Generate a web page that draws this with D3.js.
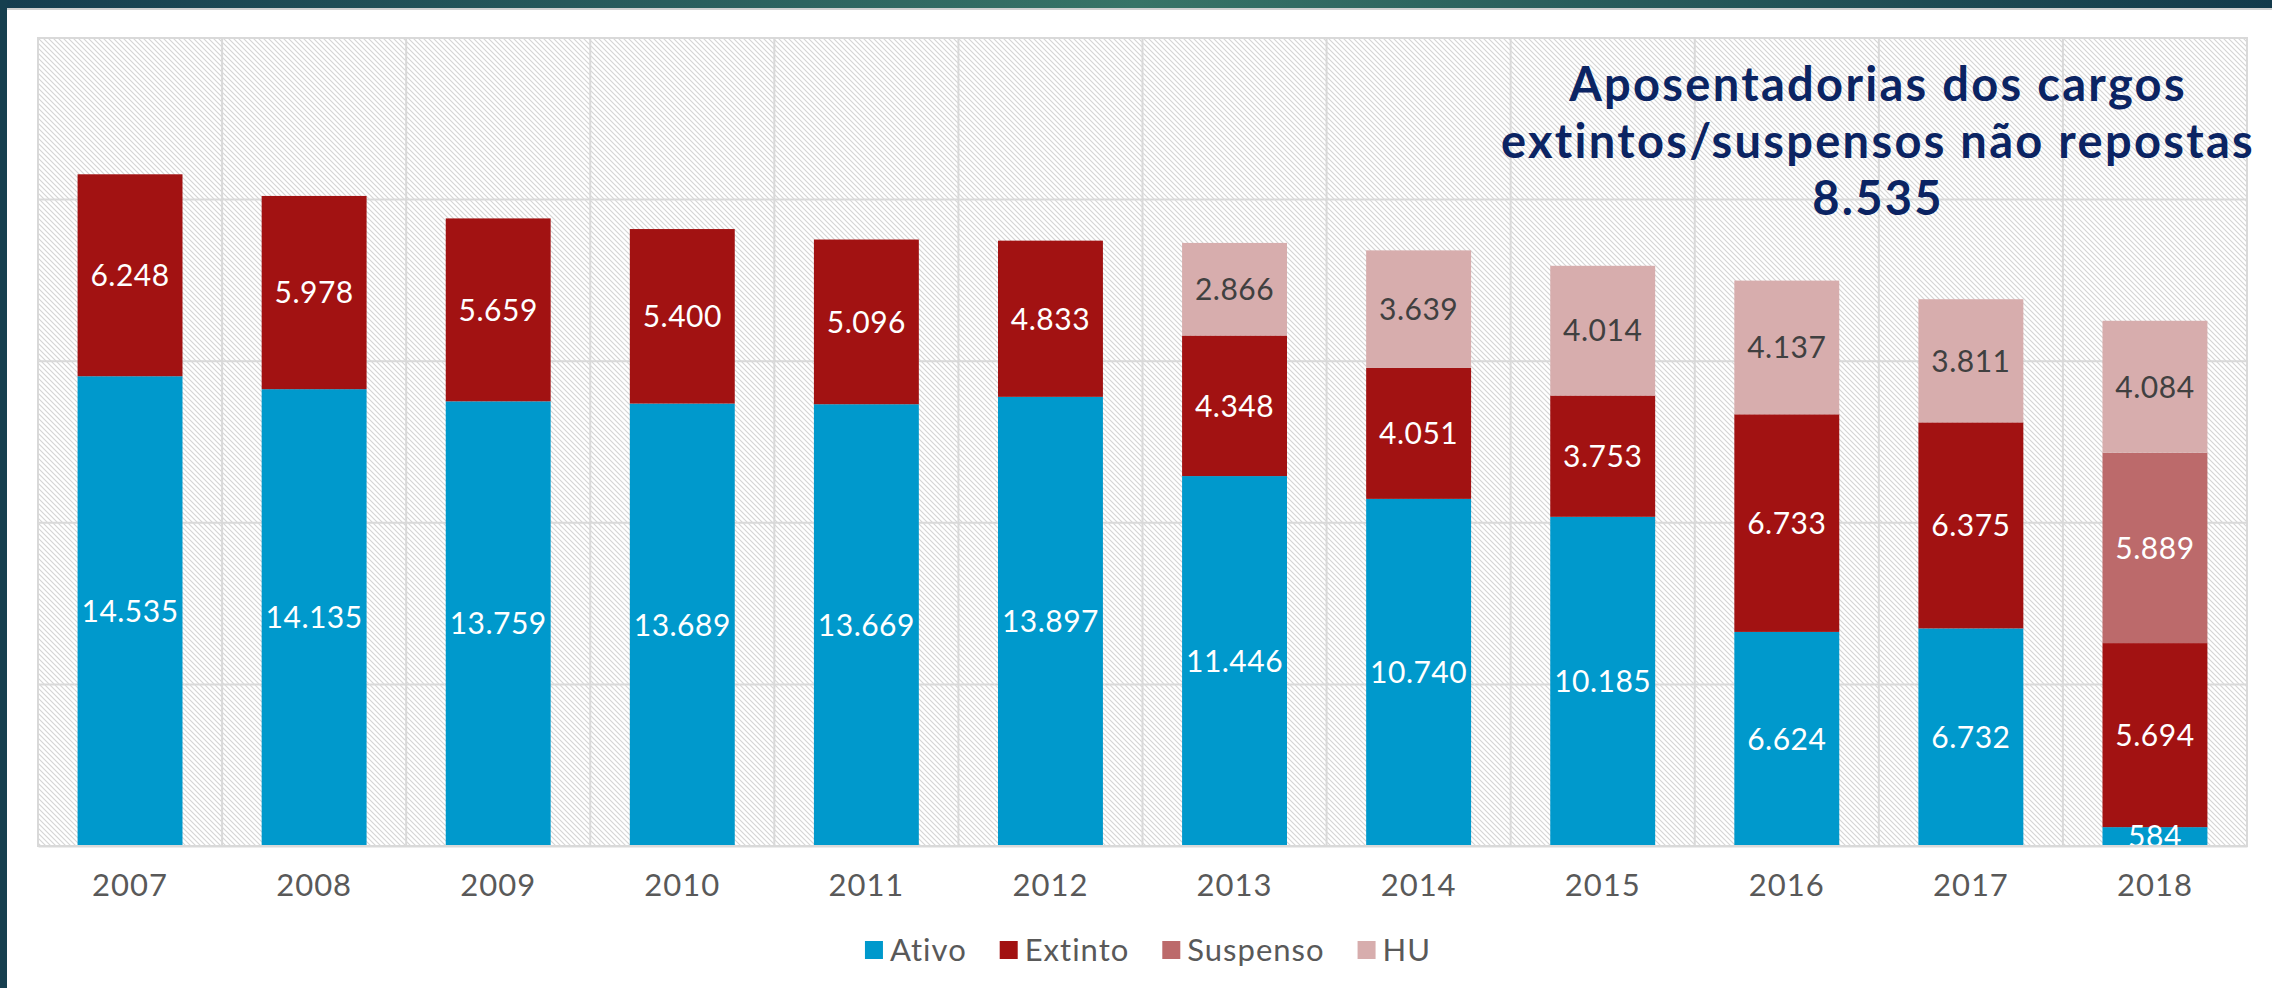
<!DOCTYPE html>
<html>
<head>
<meta charset="utf-8">
<script src="https://cdn.jsdelivr.net/npm/d3@7"></script>
<style>
  html, body { margin: 0; padding: 0; background: #ffffff; }
  svg { display: block; }
  text { font-family: "Lato", "Open Sans", sans-serif; }
</style>
</head>
<body>
<svg id="chart" width="2272" height="988"></svg>
<script>
// ---- data ----
const years = ["2007","2008","2009","2010","2011","2012","2013","2014","2015","2016","2017","2018"];
const seriesNames = ["Ativo", "Extinto", "Suspenso", "HU"];
const ativo    = [14535, 14135, 13759, 13689, 13669, 13897, 11446, 10740, 10185, 6624, 6732, 584];
const extinto  = [6248, 5978, 5659, 5400, 5096, 4833, 4348, 4051, 3753, 6733, 6375, 5694];
const suspenso = [0, 0, 0, 0, 0, 0, 0, 0, 0, 0, 0, 5889];
const hu       = [0, 0, 0, 0, 0, 0, 2866, 3639, 4014, 4137, 3811, 4084];
const yTicks   = [0, 5000, 10000, 15000, 20000, 25000];
const titleLines = ["Aposentadorias dos cargos", "extintos/suspensos não repostas", "8.535"];

const colors = { Ativo: "#0099CC", Extinto: "#A21212", Suspenso: "#BC6A6B", HU: "#D7ADAD" };
const labelColors = { Ativo: "#ffffff", Extinto: "#ffffff", Suspenso: "#ffffff", HU: "#404040" };

const rows = years.map((yr, i) => ({ year: yr, Ativo: ativo[i], Extinto: extinto[i], Suspenso: suspenso[i], HU: hu[i] }));

const W = 2272, H = 988;
const plot = { left: 38, right: 2247, top: 38, bottom: 846 };

const svg = d3.select("#chart");
const defs = svg.append("defs");

// frame gradient
const grad = defs.append("linearGradient").attr("id", "frameGrad").attr("x1", "0%").attr("x2", "100%");
grad.append("stop").attr("offset", "0%").attr("stop-color", "#153d4f");
grad.append("stop").attr("offset", "50%").attr("stop-color", "#377467");
grad.append("stop").attr("offset", "100%").attr("stop-color", "#133a4b");

// hatch pattern
const pat = defs.append("pattern").attr("id", "hatch").attr("patternUnits", "userSpaceOnUse")
  .attr("width", 5).attr("height", 5);
pat.append("rect").attr("width", 5).attr("height", 5).attr("fill", "#ffffff");
pat.append("path").attr("d", "M0,0 L5,5 M-1,4 L1,6 M4,-1 L6,1")
  .attr("stroke", "#d4d4d4").attr("stroke-width", 1.1);

defs.append("clipPath").attr("id", "plotClip").append("rect")
  .attr("x", plot.left).attr("y", plot.top)
  .attr("width", plot.right - plot.left).attr("height", plot.bottom - plot.top);

// frame
svg.append("rect").attr("x", 0).attr("y", 0).attr("width", W).attr("height", 8).attr("fill", "url(#frameGrad)");
svg.append("rect").attr("x", 0).attr("y", 8).attr("width", W).attr("height", 2).attr("fill", "#d0d0d0");
svg.append("rect").attr("x", 0).attr("y", 0).attr("width", 7).attr("height", H).attr("fill", "#163f4f");

// scales
const x = d3.scaleBand().domain(years).range([plot.left, plot.right]).paddingInner(0.43).paddingOuter(0.215);
const y = d3.scaleLinear().domain([0, 25000]).range([plot.bottom, plot.top]);

// plot background
svg.append("rect").attr("x", plot.left).attr("y", plot.top)
  .attr("width", plot.right - plot.left).attr("height", plot.bottom - plot.top)
  .attr("fill", "url(#hatch)");

// gridlines
const half = (x.step() - x.bandwidth()) / 2;
const vBounds = years.map(d => x(d) - half).concat([x(years[years.length - 1]) + x.bandwidth() + half]);
svg.append("g").selectAll("line.v").data(vBounds).join("line")
  .attr("x1", d => d).attr("x2", d => d).attr("y1", plot.top).attr("y2", plot.bottom)
  .attr("stroke", "#d9d9d9").attr("stroke-width", 2);
svg.append("g").selectAll("line.h").data(yTicks).join("line")
  .attr("x1", plot.left).attr("x2", plot.right).attr("y1", d => y(d)).attr("y2", d => y(d))
  .attr("stroke", "#d9d9d9").attr("stroke-width", 2);

// stacked bars
const stack = d3.stack().keys(seriesNames)(rows);
const gBars = svg.append("g");
stack.forEach(layer => {
  gBars.append("g").attr("fill", colors[layer.key])
    .selectAll("rect").data(layer.filter(d => d[1] - d[0] > 0)).join("rect")
    .attr("x", d => x(d.data.year)).attr("width", x.bandwidth())
    .attr("y", d => y(d[1])).attr("height", d => y(d[0]) - y(d[1]));
});

// value labels
const loc = d3.formatLocale({ decimal: ",", thousands: ".", grouping: [3], currency: ["", ""] });
const fmt = loc.format(",");
const gLab = svg.append("g").attr("clip-path", "url(#plotClip)");
stack.forEach(layer => {
  gLab.append("g").selectAll("text").data(layer.filter(d => d[1] - d[0] > 0)).join("text")
    .attr("x", d => x(d.data.year) + x.bandwidth() / 2)
    .attr("y", d => (y(d[0]) + y(d[1])) / 2)
    .attr("dy", "0.36em")
    .attr("text-anchor", "middle")
    .attr("font-size", 30)
    .attr("letter-spacing", 0.5)
    .attr("fill", labelColors[layer.key])
    .text(d => fmt(d[1] - d[0]));
});

// x axis
const xAxis = svg.append("g").attr("transform", `translate(0,${plot.bottom})`)
  .call(d3.axisBottom(x).tickSize(0).tickPadding(28));
xAxis.select(".domain").attr("stroke", "#d9d9d9").attr("stroke-width", 2);
xAxis.selectAll("text").attr("font-size", 31).attr("letter-spacing", 1).attr("fill", "#595959").attr("font-family", "Lato, sans-serif");

// plot border
svg.append("rect").attr("x", plot.left).attr("y", plot.top)
  .attr("width", plot.right - plot.left).attr("height", plot.bottom - plot.top)
  .attr("fill", "none").attr("stroke", "#d9d9d9").attr("stroke-width", 2);

// title
const title = svg.append("text").attr("text-anchor", "middle").attr("font-weight", "bold")
  .attr("font-size", 47).attr("letter-spacing", 2.3).attr("fill", "#0B2463");
titleLines.forEach((t, i) => {
  title.append("tspan").attr("x", 1878).attr("y", 101 + i * 57).text(t);
});

// legend
const legend = svg.append("g");
const items = legend.selectAll("g").data(seriesNames).join("g");
items.append("rect").attr("width", 18).attr("height", 18).attr("y", -9).attr("fill", d => colors[d]);
items.append("text").attr("x", 25).attr("dy", "0.36em").attr("font-size", 31)
  .attr("letter-spacing", 1).attr("fill", "#595959").text(d => d);
let cx = 0;
items.each(function () {
  const g = d3.select(this);
  g.attr("transform", `translate(${cx},0)`);
  cx += 25 + g.select("text").node().getComputedTextLength() + 33;
});
const total = cx - 33;
legend.attr("transform", `translate(${1148 - total / 2},950)`);
</script>
</body>
</html>
